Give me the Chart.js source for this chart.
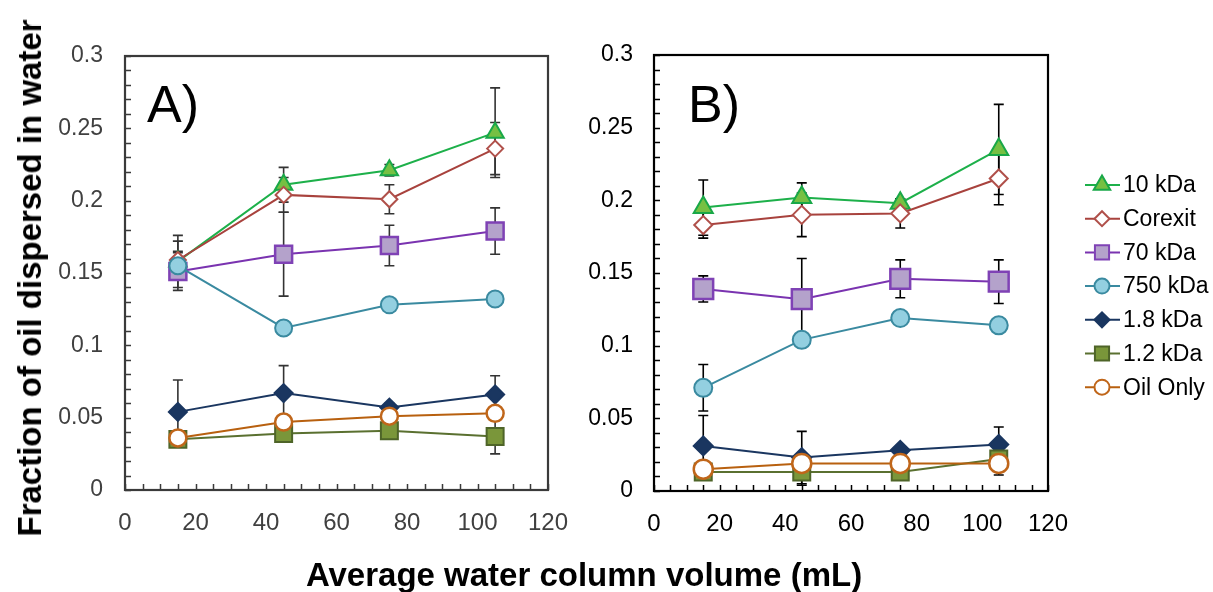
<!DOCTYPE html>
<html><head><meta charset="utf-8">
<script src="https://cdn.jsdelivr.net/npm/chart.js@4.4.0/dist/chart.umd.min.js"></script>
<style>
html,body{margin:0;padding:0;background:#fff;width:1213px;height:592px;overflow:hidden;position:relative;font-family:'Liberation Sans',Arial,sans-serif;}
#wa{position:absolute;left:0;top:0;width:580px;height:592px;}
#wb{position:absolute;left:580px;top:0;width:633px;height:592px;}
#ytitle{position:absolute;left:30px;top:278px;transform:translate(-50%,-50%) rotate(-90deg);font-weight:bold;font-size:33px;white-space:nowrap;color:#000;}
#xtitle{position:absolute;left:584px;top:575px;transform:translate(-50%,-50%);font-weight:bold;font-size:33px;white-space:nowrap;color:#000;}
</style></head>
<body>
<div id="wa"><canvas id="ca" width="580" height="592"></canvas></div>
<div id="wb"><canvas id="cb" width="633" height="592"></canvas></div>
<div id="ytitle">Fraction of oil dispersed in water</div>
<div id="xtitle">Average water column volume (mL)</div>
<script>
// ---- data ----
const xValues = [15, 45, 75, 105];
const seriesNames = ['10 kDa', 'Corexit', '70 kDa', '750 kDa', '1.8 kDa', '1.2 kDa', 'Oil Only'];
const xTicks = [0, 20, 40, 60, 80, 100, 120];
const yTicks = [0, 0.05, 0.1, 0.15, 0.2, 0.25, 0.3];
const yTickLabels = ['0', '0.05', '0.1', '0.15', '0.2', '0.25', '0.3'];

// Panel A
const A_10kDa   = [0.158, 0.211, 0.221, 0.247];
const A_corexit = [0.159, 0.204, 0.201, 0.236];
const A_70kDa   = [0.151, 0.163, 0.169, 0.179];
const A_750kDa  = [0.155, 0.112, 0.128, 0.132];
const A_1_8kDa  = [0.054, 0.067, 0.057, 0.066];
const A_1_2kDa  = [0.035, 0.039, 0.041, 0.037];
const A_oil     = [0.036, 0.047, 0.051, 0.053];
const A_10kDa_err   = [0.018, 0.012, 0.004, 0.031];
const A_corexit_err = [0.013, 0.012, 0.010, 0.018];
const A_70kDa_err   = [0.013, 0.029, 0.014, 0.016];
const A_750kDa_err  = [0.010, 0.005, 0.004, 0.003];
const A_1_8kDa_err  = [0.022, 0.019, 0.003, 0.013];
const A_1_2kDa_err  = [0.003, 0.003, 0.005, 0.012];
const A_oil_err     = [0.003, 0.003, 0.003, 0.003];

// Panel B
const B_10kDa   = [0.195, 0.202, 0.198, 0.235];
const B_corexit = [0.183, 0.190, 0.191, 0.215];
const B_70kDa   = [0.139, 0.132, 0.146, 0.144];
const B_750kDa  = [0.071, 0.104, 0.119, 0.114];
const B_1_8kDa  = [0.031, 0.023, 0.028, 0.032];
const B_1_2kDa  = [0.013, 0.013, 0.013, 0.022];
const B_oil     = [0.015, 0.019, 0.019, 0.019];
const B_10kDa_err   = [0.019, 0.010, 0.003, 0.031];
const B_corexit_err = [0.009, 0.015, 0.010, 0.018];
const B_70kDa_err   = [0.009, 0.028, 0.013, 0.015];
const B_750kDa_err  = [0.016, 0.002, 0.002, 0.002];
const B_1_8kDa_err  = [0.021, 0.018, 0.002, 0.012];
const B_1_2kDa_err  = [0.005, 0.009, 0.003, 0.003];
const B_oil_err     = [0.003, 0.003, 0.003, 0.008];

// ---- styles ----
const styles = [
  {line:'#1db04a', fill:'#76c043', border:'#19a848', shape:'triangle', rA:10, rB:11, bw:2},
  {line:'#a8423d', fill:'#ffffff', border:'#b0504a', shape:'rectRot', rA:8, rB:9, bw:2},
  {line:'#7a33b0', fill:'#b4a2cb', border:'#7f42b5', shape:'rect', rA:12, rB:14, bw:2.5},
  {line:'#3a8aa0', fill:'#93cfe0', border:'#3a8aa0', shape:'circle', rA:8.5, rB:9, bw:2},
  {line:'#1a3660', fill:'#1a3660', border:'#1a3660', shape:'rectRot', rA:9, rB:9.5, bw:2},
  {line:'#5a7030', fill:'#7a963a', border:'#4e6428', shape:'rect', rA:12, rB:12, bw:2},
  {line:'#b8600f', fill:'#ffffff', border:'#c0661a', shape:'circle', rA:8.5, rB:9.5, bw:2.5}
];

function buildDatasets(vals, errs, panel){
  return vals.map((v, i) => {
    const s = styles[i];
    return {
      label: seriesNames[i],
      data: xValues.map((x, j) => ({x: x, y: v[j]})),
      errors: errs[i],
      borderColor: s.line, borderWidth: 2,
      pointStyle: s.shape, pointRadius: panel === 'A' ? s.rA : s.rB,
      pointBackgroundColor: s.fill, pointBorderColor: s.border, pointBorderWidth: s.bw,
      pointHoverRadius: panel === 'A' ? s.rA : s.rB,
      tension: 0, fill: false, order: -i
    };
  });
}

const errorBars = {
  id: 'errorBars',
  beforeDatasetsDraw(chart, args, opts){
    const ctx = chart.ctx, xs = chart.scales.x, ys = chart.scales.y;
    ctx.save(); ctx.strokeStyle = opts.color; ctx.lineWidth = 1.6;
    const cap = 5;
    chart.data.datasets.forEach(ds => {
      ds.data.forEach((p, i) => {
        const e = ds.errors[i]; if (!e) return;
        const x = xs.getPixelForValue(p.x);
        const y1 = ys.getPixelForValue(p.y + e), y2 = ys.getPixelForValue(p.y - e);
        ctx.beginPath();
        ctx.moveTo(x, y1); ctx.lineTo(x, y2);
        ctx.moveTo(x - cap, y1); ctx.lineTo(x + cap, y1);
        ctx.moveTo(x - cap, y2); ctx.lineTo(x + cap, y2);
        ctx.stroke();
      });
    });
    ctx.restore();
  }
};

const frame = {
  id: 'frame',
  beforeDatasetsDraw(chart, args, opts){
    const ctx = chart.ctx, a = chart.chartArea, xs = chart.scales.x, ys = chart.scales.y;
    ctx.save();
    ctx.strokeStyle = opts.color; ctx.lineWidth = 2.2;
    ctx.strokeRect(a.left, a.top, a.right - a.left, a.bottom - a.top);
    ctx.lineWidth = 1.5;
    ctx.beginPath();
    for (let k = 0; k <= 30; k++) {
      const y = Math.round(ys.getPixelForValue(k * 0.01)) + 0.5;
      ctx.moveTo(a.left, y); ctx.lineTo(a.left + 6, y);
    }
    for (let k = 0; k <= 24; k++) {
      const x = Math.round(xs.getPixelForValue(k * 5)) + 0.5;
      ctx.moveTo(x, a.bottom); ctx.lineTo(x, a.bottom - 6);
    }
    ctx.stroke();
    ctx.fillStyle = '#000';
    ctx.font = '52px "Liberation Sans", Arial, sans-serif';
    ctx.textBaseline = 'alphabetic'; ctx.textAlign = 'left';
    ctx.fillText(opts.label, opts.lx, 122);
    ctx.restore();
  }
};

const legendPlugin = {
  id: 'legendB',
  afterDraw(chart, args, opts){
    if (!opts.show) return;
    const ctx = chart.ctx;
    ctx.save();
    chart.data.datasets.forEach((ds, i) => {
      const s = styles[i];
      const y = 185 + i * 33.7;
      ctx.strokeStyle = s.line; ctx.lineWidth = 2;
      ctx.beginPath(); ctx.moveTo(505, y); ctx.lineTo(540, y); ctx.stroke();
      ctx.fillStyle = s.fill; ctx.strokeStyle = s.border; ctx.lineWidth = 2;
      Chart.helpers.drawPoint(ctx, {pointStyle: s.shape, radius: s.shape === 'rect' ? 10 : (s.shape === 'triangle' ? 9.5 : 7.5), rotation: 0, borderWidth: 2}, 522, y);
      ctx.fillStyle = '#000';
      ctx.font = '23px "Liberation Sans", Arial, sans-serif';
      ctx.textBaseline = 'middle'; ctx.textAlign = 'left';
      ctx.fillText(ds.label, 543, y + 1);
    });
    ctx.restore();
  }
};

function makeChart(id, datasets, o){
  return new Chart(document.getElementById(id), {
    type: 'line',
    data: {datasets: datasets},
    options: {
      responsive: false, animation: false, devicePixelRatio: 1,
      layout: {padding: {left: 0, top: o.top, right: o.right, bottom: 0}},
      plugins: {
        legend: {display: false}, tooltip: {enabled: false},
        errorBars: {color: o.errColor},
        frame: {color: o.frameColor, label: o.label, lx: o.lx},
        legendB: {show: o.legend}
      },
      scales: {
        x: {
          type: 'linear', min: 0, max: 120,
          afterBuildTicks: s => { s.ticks = xTicks.map(v => ({value: v})); },
          afterFit: s => { s.height = o.xh; s.paddingLeft = 0; s.paddingRight = 0; },
          ticks: {color: o.tickColor, padding: 19, maxRotation: 0, autoSkip: false,
                  font: {family: "'Liberation Sans', Arial", size: 24}},
          grid: {display: false, drawTicks: false}, border: {display: false}
        },
        y: {
          type: 'linear', min: 0, max: 0.3,
          afterBuildTicks: s => { s.ticks = yTicks.map(v => ({value: v})); },
          afterFit: s => { s.width = o.yw; s.paddingTop = 0; s.paddingBottom = 0; },
          ticks: {color: o.tickColor, padding: o.ypad, autoSkip: false,
                  callback: (v, i) => yTickLabels[i],
                  font: {family: "'Liberation Sans', Arial", size: 23}},
          grid: {display: false, drawTicks: false}, border: {display: false}
        }
      }
    },
    plugins: [errorBars, frame, legendPlugin]
  });
}

makeChart('ca', buildDatasets(
  [A_10kDa, A_corexit, A_70kDa, A_750kDa, A_1_8kDa, A_1_2kDa, A_oil],
  [A_10kDa_err, A_corexit_err, A_70kDa_err, A_750kDa_err, A_1_8kDa_err, A_1_2kDa_err, A_oil_err], 'A'),
  {top: 56, right: 32, xh: 102, yw: 125, ypad: 22, tickColor: '#404040', errColor: '#333', frameColor: '#3a3a3a', label: 'A)', lx: 147, legend: false});

makeChart('cb', buildDatasets(
  [B_10kDa, B_corexit, B_70kDa, B_750kDa, B_1_8kDa, B_1_2kDa, B_oil],
  [B_10kDa_err, B_corexit_err, B_70kDa_err, B_750kDa_err, B_1_8kDa_err, B_1_2kDa_err, B_oil_err], 'B'),
  {top: 55, right: 165, xh: 101, yw: 74, ypad: 21, tickColor: '#000', errColor: '#000', frameColor: '#000', label: 'B)', lx: 108, legend: true});
</script>
</body></html>
